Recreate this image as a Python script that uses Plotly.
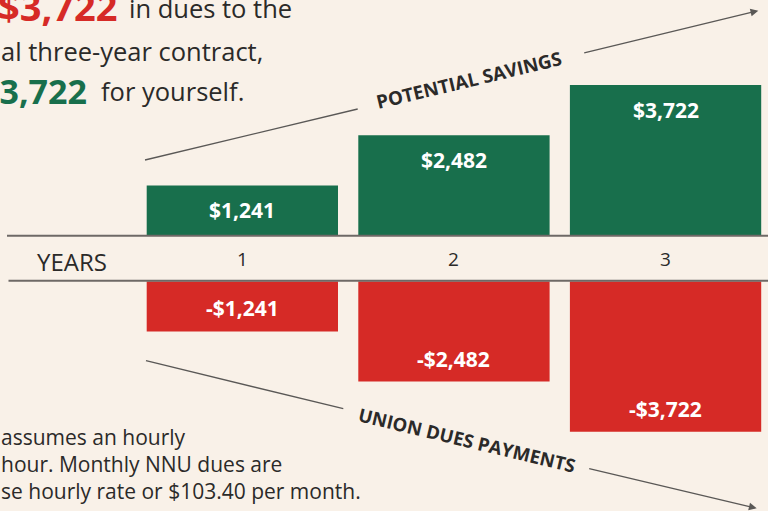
import plotly.graph_objects as go

# ---- data ----
years = [1, 2, 3]
year_labels = ["1", "2", "3"]
savings = [1241, 2482, 3722]
dues = [-1241, -2482, -3722]
savings_text = ["$1,241", "$2,482", "$3,722"]
dues_text = ["-$1,241", "-$2,482", "-$3,722"]

# ---- styling / layout constants ----
W, H = 768, 511
BG = "#f9f1e8"
GREEN = "#186f4c"
RED = "#d62a26"
DARK = "#2b2a29"
LINE = "#6e6966"
ARROW = "#5a5856"
FONT = "Open Sans, Lato, sans-serif"

def px(x):
    return x / W

def py(y):
    return 1 - y / H

# pixel geometry
top_base = 235.6   # baseline of green bars
bot_base = 281.2   # baseline of red bars
scale = 150.5 / 3722.0  # pixels per dollar
c1, pitch = 242.35, 211.6
bar_w = 191.3 / pitch

x_lo = 1 - c1 / pitch
x_hi = 1 + (W - c1) / pitch

fig = go.Figure()
fig.add_trace(go.Bar(x=years, y=savings, width=bar_w, marker=dict(color=GREEN, line=dict(width=0)),
                     xaxis="x", yaxis="y", hoverinfo="skip"))
fig.add_trace(go.Bar(x=years, y=dues, width=bar_w, marker=dict(color=RED, line=dict(width=0)),
                     xaxis="x2", yaxis="y2", hoverinfo="skip"))

annotations = []
# bar value labels
for xv, yv, t in zip(years, savings, savings_text):
    annotations.append(dict(x=xv, y=yv, xref="x", yref="y", text=t, showarrow=False,
                            xanchor="center", yanchor="middle",
                            yshift=-25, font=dict(family=FONT, size=21, color="white", weight="bold")))
for xv, yv, t in zip(years, dues, dues_text):
    annotations.append(dict(x=xv, y=yv, xref="x2", yref="y2", text=t, showarrow=False,
                            xanchor="center", yanchor="middle",
                            yshift=23, font=dict(family=FONT, size=21, color="white", weight="bold")))
# year tick labels
for xv, t in zip(years, year_labels):
    annotations.append(dict(x=xv, y=py(259), xref="x", yref="paper", text=t, showarrow=False,
                            xanchor="center", yanchor="middle",
                            font=dict(family=FONT, size=19, color=DARK)))
annotations.append(dict(x=px(72), y=py(261), xref="paper", yref="paper", text="YEARS", showarrow=False,
                        xanchor="center", yanchor="middle",
                        font=dict(family=FONT, size=24, color=DARK)))

# headline text (cropped paragraph)
def txt(x, y, t, size, color, anchor="left", bold=False):
    annotations.append(dict(x=px(x), y=py(y), xref="paper", yref="paper", text=t, showarrow=False,
                            xanchor=anchor, yanchor="middle",
                            font=dict(family=FONT, size=size, color=color,
                                      weight="bold" if bold else "normal")))

txt(119, 6, "$3,722", 38, RED, anchor="right", bold=True)
txt(127, 8, "in dues to the", 25.5, DARK)
txt(-1, 51, "al three-year contract,", 25.5, DARK)
txt(89, 91, "$3,722", 34, GREEN, anchor="right", bold=True)
txt(99, 91, "for yourself.", 25.5, DARK)

txt(-1, 437, "assumes an hourly", 21, DARK)
txt(-1, 464, "hour. Monthly NNU dues are", 21, DARK)
txt(-1, 491, "se hourly rate or $103.40 per month.", 21, DARK)

# rotated labels
annotations.append(dict(x=px(469), y=py(80), xref="paper", yref="paper", text="POTENTIAL SAVINGS",
                        showarrow=False, textangle=-13.5, xanchor="center", yanchor="middle",
                        font=dict(family=FONT, size=18.8, color=DARK, weight="bold")))
annotations.append(dict(x=px(466.5), y=py(439), xref="paper", yref="paper", text="UNION DUES PAYMENTS",
                        showarrow=False, textangle=13.5, xanchor="center", yanchor="middle",
                        font=dict(family=FONT, size=18.5, color=DARK, weight="bold")))

# arrows
annotations.append(dict(x=px(758.3), y=py(10.7), xref="paper", yref="paper", text="",
                        showarrow=True, ax=582.7 - 758.3, ay=53.3 - 10.7, arrowhead=2,
                        arrowsize=1.2, arrowwidth=1.3, arrowcolor=ARROW, standoff=0))
annotations.append(dict(x=px(756.7), y=py(508.3), xref="paper", yref="paper", text="",
                        showarrow=True, ax=587.7 - 756.7, ay=468.3 - 508.3, arrowhead=2,
                        arrowsize=1.2, arrowwidth=1.3, arrowcolor=ARROW, standoff=0))

shapes = [
    dict(type="line", xref="paper", yref="paper", x0=px(7), x1=1, y0=py(235.7), y1=py(235.7),
         line=dict(color=LINE, width=2)),
    dict(type="line", xref="paper", yref="paper", x0=px(8.5), x1=1, y0=py(280.8), y1=py(280.8),
         line=dict(color=LINE, width=2)),
    dict(type="line", xref="paper", yref="paper", x0=px(145), y0=py(160), x1=px(357.7), y1=py(109),
         line=dict(color=ARROW, width=1.3)),
    dict(type="line", xref="paper", yref="paper", x0=px(146), y0=py(360.7), x1=px(343.3), y1=py(408.7),
         line=dict(color=ARROW, width=1.3)),
]

ax_common = dict(showgrid=False, zeroline=False, showticklabels=False, showline=False, ticks="",
                 range=[x_lo, x_hi], fixedrange=True)
fig.update_layout(
    width=W, height=H,
    margin=dict(l=0, r=0, t=0, b=0),
    paper_bgcolor=BG, plot_bgcolor=BG,
    showlegend=False,
    barmode="overlay",
    xaxis=dict(**ax_common, anchor="y", domain=[0, 1]),
    xaxis2=dict(**ax_common, anchor="y2", domain=[0, 1], matches="x"),
    yaxis=dict(domain=[py(top_base), 1], range=[0, top_base / scale], showgrid=False, zeroline=False,
               showticklabels=False, showline=False, ticks="", fixedrange=True),
    yaxis2=dict(domain=[0, py(bot_base)], range=[-(H - bot_base) / scale, 0], showgrid=False,
                zeroline=False, showticklabels=False, showline=False, ticks="", fixedrange=True),
    annotations=annotations,
    shapes=shapes,
)

fig.write_html("out.html", config={"displayModeBar": False},
               post_script="document.body.style.margin='0';document.body.style.overflow='hidden';")
